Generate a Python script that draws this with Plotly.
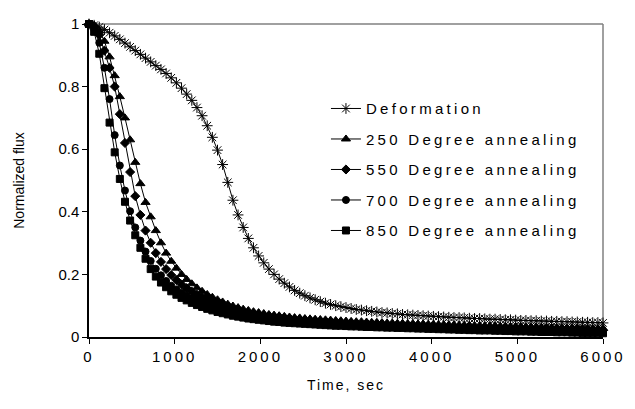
import plotly.graph_objects as go

time_s = [
    0, 60, 120, 180, 240, 300, 360, 420, 480, 540,
    600, 660, 720, 780, 840, 900, 960, 1020, 1080, 1140,
    1200, 1260, 1320, 1380, 1440, 1500, 1560, 1620, 1680, 1740,
    1800, 1860, 1920, 1980, 2040, 2100, 2160, 2220, 2280, 2340,
    2400, 2460, 2520, 2580, 2640, 2700, 2760, 2820, 2880, 2940,
    3000, 3060, 3120, 3180, 3240, 3300, 3360, 3420, 3480, 3540,
    3600, 3660, 3720, 3780, 3840, 3900, 3960, 4020, 4080, 4140,
    4200, 4260, 4320, 4380, 4440, 4500, 4560, 4620, 4680, 4740,
    4800, 4860, 4920, 4980, 5040, 5100, 5160, 5220, 5280, 5340,
    5400, 5460, 5520, 5580, 5640, 5700, 5760, 5820, 5880, 5940,
    6000,
]

deformation = [
    1.000, 0.996, 0.990, 0.982, 0.972, 0.962, 0.951, 0.939, 0.927, 0.915,
    0.903, 0.891, 0.879, 0.867, 0.855, 0.842, 0.828, 0.812, 0.795, 0.776,
    0.756, 0.733, 0.707, 0.675, 0.638, 0.597, 0.551, 0.494, 0.437, 0.390,
    0.350, 0.315, 0.285, 0.259, 0.237, 0.217, 0.200, 0.185, 0.172, 0.160,
    0.149, 0.140, 0.132, 0.125, 0.119, 0.113, 0.108, 0.104, 0.100, 0.097,
    0.094, 0.091, 0.088, 0.086, 0.084, 0.082, 0.080, 0.078, 0.077, 0.075,
    0.074, 0.072, 0.071, 0.070, 0.069, 0.068, 0.067, 0.066, 0.065, 0.064,
    0.063, 0.062, 0.062, 0.061, 0.060, 0.059, 0.059, 0.058, 0.057, 0.057,
    0.056, 0.055, 0.055, 0.054, 0.053, 0.053, 0.052, 0.052, 0.051, 0.051,
    0.050, 0.050, 0.049, 0.049, 0.048, 0.048, 0.047, 0.047, 0.046, 0.046,
    0.045,
]

anneal_250 = [
    1.000, 0.996, 0.978, 0.945, 0.895, 0.835, 0.768, 0.700, 0.630, 0.558,
    0.490, 0.430, 0.384, 0.340, 0.301, 0.268, 0.242, 0.220, 0.200, 0.184,
    0.170, 0.157, 0.146, 0.136, 0.127, 0.119, 0.112, 0.105, 0.099, 0.094,
    0.089, 0.085, 0.081, 0.078, 0.075, 0.072, 0.070, 0.068, 0.066, 0.064,
    0.062, 0.061, 0.059, 0.058, 0.057, 0.056, 0.055, 0.054, 0.053, 0.052,
    0.051, 0.050, 0.049, 0.049, 0.048, 0.047, 0.047, 0.046, 0.045, 0.045,
    0.044, 0.044, 0.043, 0.043, 0.042, 0.042, 0.041, 0.041, 0.040, 0.040,
    0.039, 0.039, 0.038, 0.038, 0.038, 0.037, 0.037, 0.036, 0.036, 0.036,
    0.035, 0.035, 0.034, 0.034, 0.034, 0.033, 0.033, 0.033, 0.032, 0.032,
    0.031, 0.031, 0.031, 0.030, 0.030, 0.030, 0.029, 0.029, 0.028, 0.028,
    0.028,
]

anneal_550 = [
    1.000, 0.993, 0.965, 0.915, 0.860, 0.800, 0.712, 0.620, 0.527, 0.450,
    0.390, 0.340, 0.301, 0.268, 0.240, 0.217, 0.198, 0.182, 0.168, 0.156,
    0.145, 0.135, 0.127, 0.119, 0.112, 0.106, 0.100, 0.095, 0.090, 0.086,
    0.082, 0.078, 0.075, 0.072, 0.069, 0.067, 0.065, 0.063, 0.061, 0.059,
    0.057, 0.056, 0.054, 0.053, 0.052, 0.050, 0.049, 0.048, 0.047, 0.046,
    0.045, 0.044, 0.043, 0.042, 0.042, 0.041, 0.040, 0.039, 0.039, 0.038,
    0.037, 0.037, 0.036, 0.036, 0.035, 0.034, 0.034, 0.033, 0.033, 0.032,
    0.032, 0.031, 0.031, 0.030, 0.030, 0.029, 0.029, 0.029, 0.028, 0.028,
    0.027, 0.027, 0.027, 0.026, 0.026, 0.026, 0.025, 0.025, 0.025, 0.024,
    0.024, 0.024, 0.023, 0.023, 0.023, 0.023, 0.022, 0.022, 0.022, 0.022,
    0.021,
]

anneal_700 = [
    1.000, 0.985, 0.940, 0.860, 0.760, 0.645, 0.548, 0.468, 0.402, 0.350,
    0.308, 0.273, 0.243, 0.218, 0.197, 0.179, 0.164, 0.152, 0.141, 0.132,
    0.123, 0.116, 0.109, 0.103, 0.097, 0.092, 0.087, 0.083, 0.079, 0.075,
    0.072, 0.069, 0.066, 0.064, 0.061, 0.059, 0.057, 0.055, 0.054, 0.052,
    0.051, 0.049, 0.048, 0.047, 0.046, 0.045, 0.044, 0.043, 0.042, 0.041,
    0.040, 0.039, 0.039, 0.038, 0.037, 0.036, 0.036, 0.035, 0.034, 0.034,
    0.033, 0.033, 0.032, 0.032, 0.031, 0.031, 0.030, 0.030, 0.029, 0.029,
    0.028, 0.028, 0.027, 0.027, 0.027, 0.026, 0.026, 0.025, 0.025, 0.025,
    0.024, 0.024, 0.023, 0.023, 0.023, 0.022, 0.022, 0.022, 0.021, 0.021,
    0.021, 0.020, 0.020, 0.020, 0.019, 0.019, 0.019, 0.018, 0.018, 0.018,
    0.017,
]

anneal_850 = [
    1.000, 0.975, 0.905, 0.795, 0.685, 0.590, 0.505, 0.432, 0.372, 0.325,
    0.285, 0.250, 0.217, 0.193, 0.174, 0.159, 0.146, 0.135, 0.125, 0.117,
    0.109, 0.102, 0.096, 0.090, 0.085, 0.080, 0.076, 0.072, 0.068, 0.065,
    0.062, 0.059, 0.057, 0.055, 0.053, 0.051, 0.049, 0.048, 0.046, 0.045,
    0.044, 0.043, 0.042, 0.041, 0.040, 0.039, 0.038, 0.037, 0.036, 0.036,
    0.035, 0.034, 0.034, 0.033, 0.032, 0.032, 0.031, 0.031, 0.030, 0.030,
    0.029, 0.029, 0.028, 0.028, 0.027, 0.027, 0.026, 0.026, 0.025, 0.025,
    0.024, 0.024, 0.023, 0.023, 0.022, 0.022, 0.021, 0.021, 0.021, 0.020,
    0.020, 0.019, 0.019, 0.018, 0.018, 0.018, 0.017, 0.017, 0.016, 0.016,
    0.016, 0.015, 0.015, 0.015, 0.014, 0.014, 0.013, 0.013, 0.013, 0.012,
    0.012,
]

series_names = [
    "Deformation",
    "250 Degree annealing",
    "550 Degree annealing",
    "700 Degree annealing",
    "850 Degree annealing",
]
series_values = [deformation, anneal_250, anneal_550, anneal_700, anneal_850]
series_symbols = ["asterisk-open", "triangle-up", "diamond", "circle", "square"]
series_sizes = [9, 8, 7, 7, 7]

x_tick_vals = [0, 1000, 2000, 3000, 4000, 5000, 6000]
x_tick_text = ["0", "1000", "2000", "3000", "4000", "5000", "6000"]
y_tick_vals = [0, 0.2, 0.4, 0.6, 0.8, 1.0]
y_tick_text = ["0", "0.2", "0.4", "0.6", "0.8", "1"]

FONT = "Liberation Sans, Arial, sans-serif"

fig = go.Figure()
for i, (name, vals, sym, sz) in enumerate(zip(series_names, series_values, series_symbols, series_sizes)):
    fig.add_trace(go.Scatter(
        x=time_s, y=vals, name=name, mode="lines+markers",
        line=dict(color="black", width=1),
        marker=dict(symbol=sym, size=sz, color="black",
                    line=dict(color="black", width=1)),
        cliponaxis=False,
        legendgroup=f"g{i}",
    ))

fig.update_layout(
    width=627, height=401,
    margin=dict(l=81, r=32, t=7, b=72),
    paper_bgcolor="white", plot_bgcolor="white",
    font=dict(family=FONT, size=14, color="black"),
    showlegend=True,
    legend=dict(
        x=0.461, y=0.782, xanchor="left", yanchor="top",
        bgcolor="rgba(0,0,0,0)", borderwidth=0,
        font=dict(family=FONT, size=15, color="black"),
        tracegroupgap=8, itemwidth=30,
    ),
    xaxis=dict(
        range=[0, 6000], tickmode="array", tickvals=x_tick_vals, ticktext=x_tick_text,
        ticks="outside", ticklen=5, tickcolor="black", tickwidth=1,
        showline=True, linecolor="black", linewidth=1.5,
        showgrid=False, zeroline=False, ticklabeloverflow="allow",
        title=dict(text="Time, sec", standoff=16, font=dict(family=FONT, size=14)),
        tickfont=dict(family=FONT, size=15),
    ),
    yaxis=dict(
        range=[0, 1], tickmode="array", tickvals=y_tick_vals, ticktext=y_tick_text,
        ticks="outside", ticklen=5, tickcolor="black", tickwidth=1,
        showline=True, linecolor="black", linewidth=1.5,
        showgrid=False, zeroline=False, ticklabeloverflow="allow",
        title=dict(text="Normalized flux", standoff=30, font=dict(family=FONT, size=14)),
        tickfont=dict(family=FONT, size=15),
    ),
    shapes=[
        dict(type="line", xref="paper", yref="paper", x0=0, x1=1, y0=1, y1=1,
             line=dict(color="#808080", width=1.5), layer="below"),
        dict(type="line", xref="paper", yref="paper", x0=1, x1=1, y0=0, y1=1,
             line=dict(color="#808080", width=1.5), layer="below"),
    ],
)

post = """
document.querySelectorAll('.xtick text').forEach(function(e){e.style.letterSpacing='3px';});
document.querySelectorAll('.legendtext').forEach(function(e){e.style.letterSpacing='3.3px';});
document.querySelectorAll('.g-xtitle text').forEach(function(e){e.style.letterSpacing='2px';});
document.querySelectorAll('.legend .scrollbox, .legend').forEach(function(e){e.removeAttribute('clip-path');});
"""

fig.write_html("out.html", post_script=post)
